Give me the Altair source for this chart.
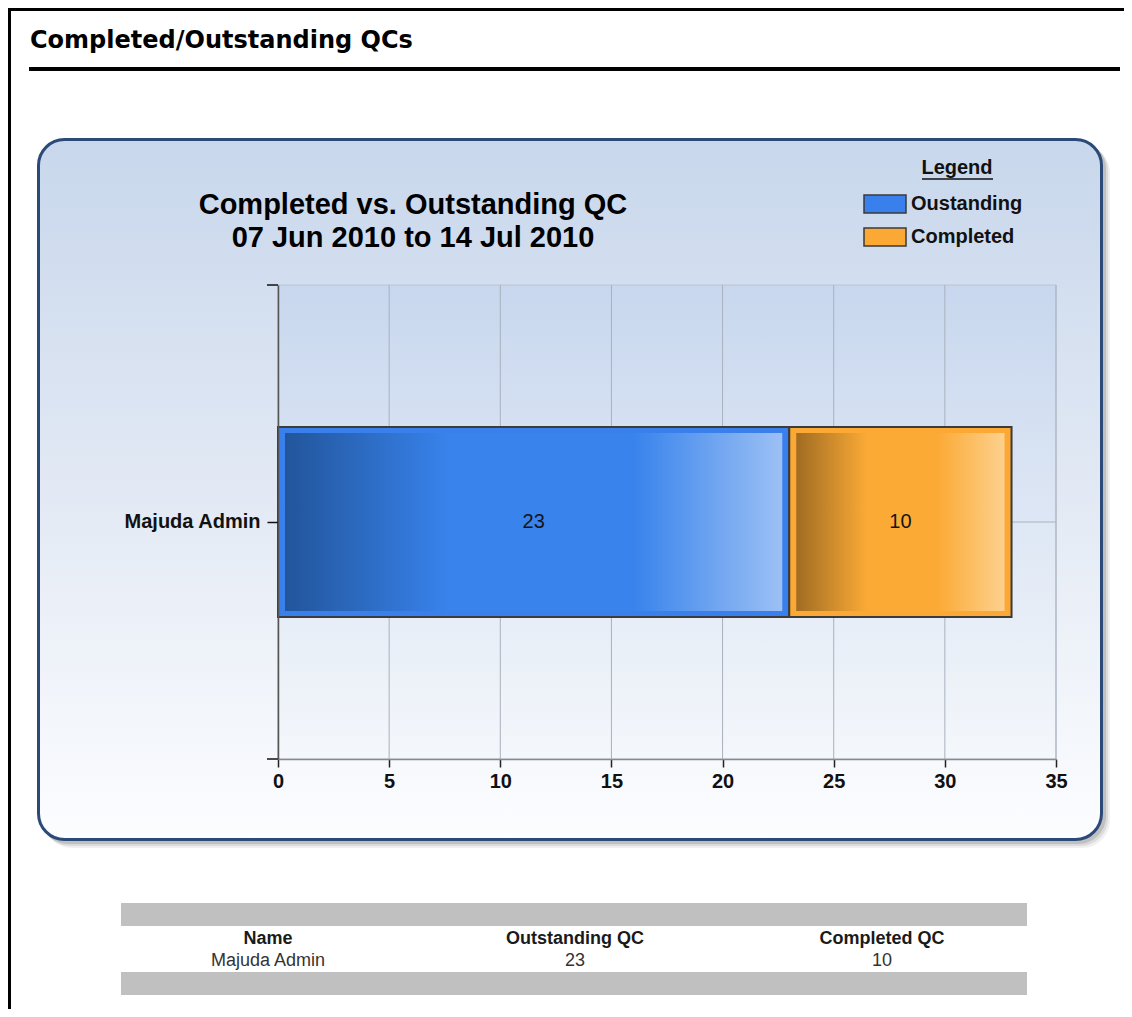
import altair as alt
import pandas as pd

# ---------------- data ----------------
names = ["Majuda Admin"]
series = ["Oustanding", "Completed"]
values = [23, 10]
x_ticks = [0, 5, 10, 15, 20, 25, 30, 35]
table_headers = ["Name", "Outstanding QC", "Completed QC"]
chart_title = ["Completed vs. Outstanding QC", "07 Jun 2010 to 14 Jul 2010"]
page_title = "Completed/Outstanding QCs"
legend_title = "Legend"

colors = ["#3a80ec", "#fba834"]

# ---------------- layout ----------------
W, H = 778, 474
PL, PT = 270, 277
PR = 1116 - PL - W
PB = 1001 - PT - H
FONT = "Liberation Sans"


def px(x):
    return x - 278


def py(y):
    return y - 285


rows = []
acc = 0
for s, v in zip(series, values):
    rows.append(dict(name=names[0], series=s, value=v, start=acc, end=acc + v,
                     mid=acc + v / 2, label=str(v)))
    acc += v
df = pd.DataFrame(rows)
ticks_df = pd.DataFrame({"t": x_ticks})
one = pd.DataFrame({"k": [0]})


def grad(stops, vertical=False):
    return {
        "gradient": "linear",
        "stops": [{"offset": o, "color": c} for o, c in stops],
        "x1": 0, "y1": 0,
        "x2": 0 if vertical else 1,
        "y2": 1 if vertical else 0,
    }


def box(x1, y1, x2, y2, **kw):
    return alt.Chart(one).mark_rect(**kw).encode(
        x=alt.value(px(x1)), x2=alt.value(px(x2)),
        y=alt.value(py(y1)), y2=alt.value(py(y2)))


def line(x1, y1, x2, y2, **kw):
    return alt.Chart(one).mark_rule(**kw).encode(
        x=alt.value(px(x1)), x2=alt.value(px(x2)),
        y=alt.value(py(y1)), y2=alt.value(py(y2)))


def label(txt, x, y, **kw):
    return alt.Chart(one).mark_text(text=txt, **kw).encode(
        x=alt.value(px(x)), y=alt.value(py(y)))


# ---------------- page decorations ----------------
page = [
    box(8, 8, 1124, 11, fill="#000000"),
    box(8, 8, 11, 1009, fill="#000000"),
    label(page_title, 30, 41, font="DejaVu Sans", fontSize=24, fontWeight="bold",
          align="left", baseline="middle", color="#000000"),
    box(29, 67, 1120, 71, fill="#000000"),
    # panel shadow
    box(44, 145, 1110, 848, fill="#808080", opacity=0.12, cornerRadius=28),
    box(42, 143, 1108, 846, fill="#808080", opacity=0.18, cornerRadius=28),
    box(40, 141, 1106, 844, fill="#707070", opacity=0.25, cornerRadius=28),
    # panel
    box(38.5, 139.5, 1101.5, 839.5,
        fill=grad([(0, "#c8d7ec"), (0.5, "#e2e9f4"), (1, "#fcfdff")], vertical=True),
        stroke="#2b4a78", strokeWidth=3, cornerRadius=26),
]

# ---------------- main plot ----------------
xscale = alt.Scale(domain=[0, 35], nice=False, zero=True)
yscale = alt.Scale(domain=names)
xaxis = alt.Axis(values=x_ticks, title=None, grid=False, zindex=1,
                 labelFlush=False, labelOverlap=False,
                 domainColor="#8a8a8a", domainWidth=1.5, tickColor="#222222",
                 tickSize=8, tickWidth=1.5, labelFont=FONT, labelFontSize=20,
                 labelFontWeight="bold", labelColor="#111111", labelPadding=4)
yaxis = alt.Axis(title=None, grid=False, zindex=1, domainColor="#555555",
                 domainWidth=1.5, tickColor="#111111", tickSize=11, tickWidth=1.5,
                 labelFont=FONT, labelFontSize=20, labelFontWeight="bold",
                 labelColor="#111111", labelPadding=7)

plot_bg = alt.Chart(one).mark_rect(
    fill=grad([(0, "#c8d7ee"), (1, "#f4f7fb")], vertical=True),
    stroke="#b9c3d2", strokeWidth=1).encode(
    x=alt.value(0), x2=alt.value(W), y=alt.value(0), y2=alt.value(H))

vgrid = alt.Chart(ticks_df).mark_rule(color="#a9b1bd", strokeWidth=1).encode(
    x=alt.X("t:Q", scale=xscale, axis=xaxis), y=alt.value(0), y2=alt.value(H))

hgrid = alt.Chart(df).transform_filter(alt.datum.series == series[0]).mark_rule(
    color="#a9b1bd", strokeWidth=1).encode(
    y=alt.Y("name:N", scale=yscale, axis=yaxis), x=alt.value(0), x2=alt.value(W))

edge_ticks = [
    line(267, 285, 278, 285, color="#111111", strokeWidth=1.5),
    line(267, 759, 278, 759, color="#111111", strokeWidth=1.5),
]

outer_bars = alt.Chart(df).mark_bar(size=190, stroke="#3b3b3b", strokeWidth=2).encode(
    x=alt.X("start:Q", scale=xscale, axis=xaxis),
    x2="end:Q",
    y=alt.Y("name:N", scale=yscale, axis=yaxis),
    color=alt.Color("series:N", scale=alt.Scale(domain=series, range=colors), legend=None),
)

grad_blue = grad([(0, "#22559b"), (0.33, "#3883ec"), (0.7, "#3883ec"), (1, "#9cc0f4")])
grad_orange = grad([(0, "#a06c22"), (0.34, "#fbaa36"), (0.68, "#fbaa36"), (1, "#fdd18e")])

inner_bars = []
for s, g in zip(series, [grad_blue, grad_orange]):
    inner_bars.append(
        alt.Chart(df).transform_filter(alt.datum.series == s).mark_bar(
            size=178, xOffset=7, x2Offset=-7, fill=g, strokeWidth=0).encode(
            x=alt.X("start:Q", scale=xscale, axis=xaxis),
            x2="end:Q",
            y=alt.Y("name:N", scale=yscale, axis=yaxis)))

bar_text = alt.Chart(df).mark_text(font=FONT, fontSize=20, color="#151515",
                                   baseline="middle", align="center").encode(
    x=alt.X("mid:Q", scale=xscale, axis=xaxis),
    y=alt.Y("name:N", scale=yscale, axis=yaxis),
    text="label:N")

main = alt.layer(plot_bg, vgrid, hgrid, *edge_ticks, outer_bars, *inner_bars, bar_text)

# ---------------- chart title ----------------
titles = [
    label(chart_title[0], 413, 205, font=FONT, fontSize=29, fontWeight="bold",
          align="center", baseline="middle", color="#000000"),
    label(chart_title[1], 413, 238, font=FONT, fontSize=29, fontWeight="bold",
          align="center", baseline="middle", color="#000000"),
]

# ---------------- legend ----------------
leg_y = alt.Y("series:N", scale=alt.Scale(type="point", domain=series,
                                          range=[py(204), py(237)], padding=0), axis=None)
legend_sym = alt.Chart(df).mark_point(
    shape="M-1,-0.43L1,-0.43L1,0.43L-1,0.43Z", size=1764, filled=True,
    opacity=1, stroke="#3a3a3a", strokeWidth=1.5).encode(
    x=alt.value(px(885)), y=leg_y,
    fill=alt.Fill("series:N", scale=alt.Scale(domain=series, range=colors), legend=None))
legend_txt = alt.Chart(df).mark_text(font=FONT, fontSize=20, fontWeight="bold",
                                     align="left", baseline="middle", color="#111111").encode(
    x=alt.value(px(911)), y=leg_y, text="series:N")
legend_head = [
    label(legend_title, 957, 168, font=FONT, fontSize=20, fontWeight="bold",
          align="center", baseline="middle", color="#111111"),
    line(922, 179, 993, 179, color="#111111", strokeWidth=1.5),
]
legend = alt.layer(legend_sym, legend_txt)

# ---------------- table ----------------
tbl = pd.DataFrame({"col": table_headers, "head": table_headers,
                    "val": [names[0], str(values[0]), str(values[1])]})
tx = alt.X("col:N", scale=alt.Scale(type="point", domain=table_headers,
                                     range=[px(268), px(882)], padding=0), axis=None)
table = alt.layer(
    alt.Chart(tbl).mark_text(font=FONT, fontSize=18, fontWeight="bold",
                             color="#1a1a1a", baseline="middle").encode(
        x=tx, y=alt.value(py(939)), text="head:N"),
    alt.Chart(tbl).mark_text(font=FONT, fontSize=18, color="#333333",
                             baseline="middle").encode(
        x=tx, y=alt.value(py(961)), text="val:N"),
)
table_bands = [
    box(121, 903, 1027, 926, fill="#c0c0c0"),
    box(121, 972, 1027, 995, fill="#c0c0c0"),
]

chart = alt.layer(
    *page, main, *titles, legend, *legend_head, *table_bands, table
).resolve_scale(
    x="independent", y="independent"
).properties(
    width=W, height=H,
    padding={"left": PL, "top": PT, "right": PR, "bottom": PB},
    autosize=alt.AutoSizeParams(type="none"),
    background="white",
).configure_view(stroke=None)

chart.save("out.html", embed_options={"renderer": "svg", "actions": False})
